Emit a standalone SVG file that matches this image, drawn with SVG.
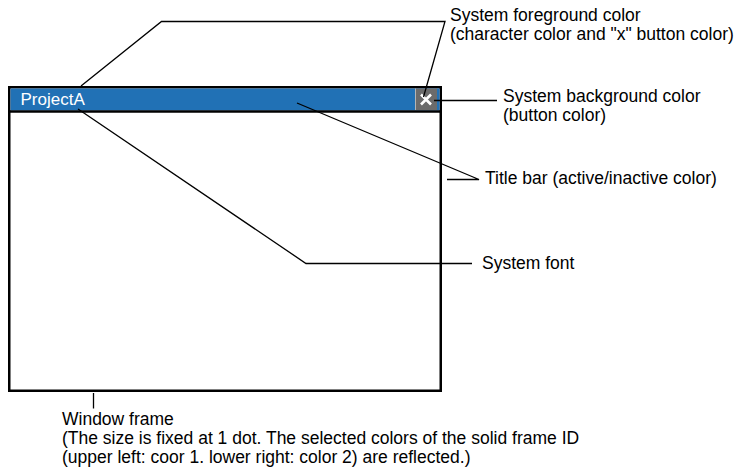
<svg xmlns="http://www.w3.org/2000/svg" width="735" height="468" viewBox="0 0 735 468">
<style>
text{font-family:"Liberation Sans",Arial,sans-serif;font-size:17.5px;fill:#000}
.lead{fill:none;stroke:#000;stroke-width:1.3}
</style>
<rect width="735" height="468" fill="#fff"/>
<g id="window">
<rect x="9.25" y="87.25" width="431.5" height="303.5" fill="#fff" stroke="#000" stroke-width="2.5"/>
<rect x="10.5" y="88.5" width="429" height="22" fill="#2171b5"/>
<line x1="10" y1="111.5" x2="440" y2="111.5" stroke="#000" stroke-width="2.5"/>
<text x="20.5" y="105" style="fill:#fff;font-size:17px">ProjectA</text>
</g>
<g id="close-button">
<rect x="415" y="88.5" width="22" height="21.5" fill="#6b6b6b"/>
<line x1="415.5" y1="88.5" x2="415.5" y2="110" stroke="#b5b5b5" stroke-width="1"/>
<path d="M421 94.5 L431 104.5 M431 94.5 L421 104.5" stroke="#fff" stroke-width="2.6" fill="none"/>
</g>
<g id="connectors">
<polyline class="lead" points="81,86 161.5,21.5 445,21.5 423.5,97"/>
<polyline class="lead" points="434,100.5 497,100.5"/>
<polyline class="lead" points="297,103 479,179.5 447,179.5"/>
<polyline class="lead" points="78,109 306,263.5 472,263.5"/>
<polyline class="lead" points="93.5,393 93.5,408.5"/>
</g>
<g id="label-foreground">
<text x="450" y="20.5">System foreground color</text>
<text x="450" y="39.5">(character color and "x" button color)</text>
</g>
<g id="label-background">
<text x="503" y="102">System background color</text>
<text x="503" y="121">(button color)</text>
</g>
<g id="label-titlebar">
<text x="485" y="183.5">Title bar (active/inactive color)</text>
</g>
<g id="label-font">
<text x="482" y="268.5">System font</text>
</g>
<g id="label-frame">
<text x="62" y="425">Window frame</text>
<text x="62" y="444">(The size is fixed at 1 dot. The selected colors of the solid frame ID</text>
<text x="62" y="463">(upper left: coor 1. lower right: color 2) are reflected.)</text>
</g>
</svg>
